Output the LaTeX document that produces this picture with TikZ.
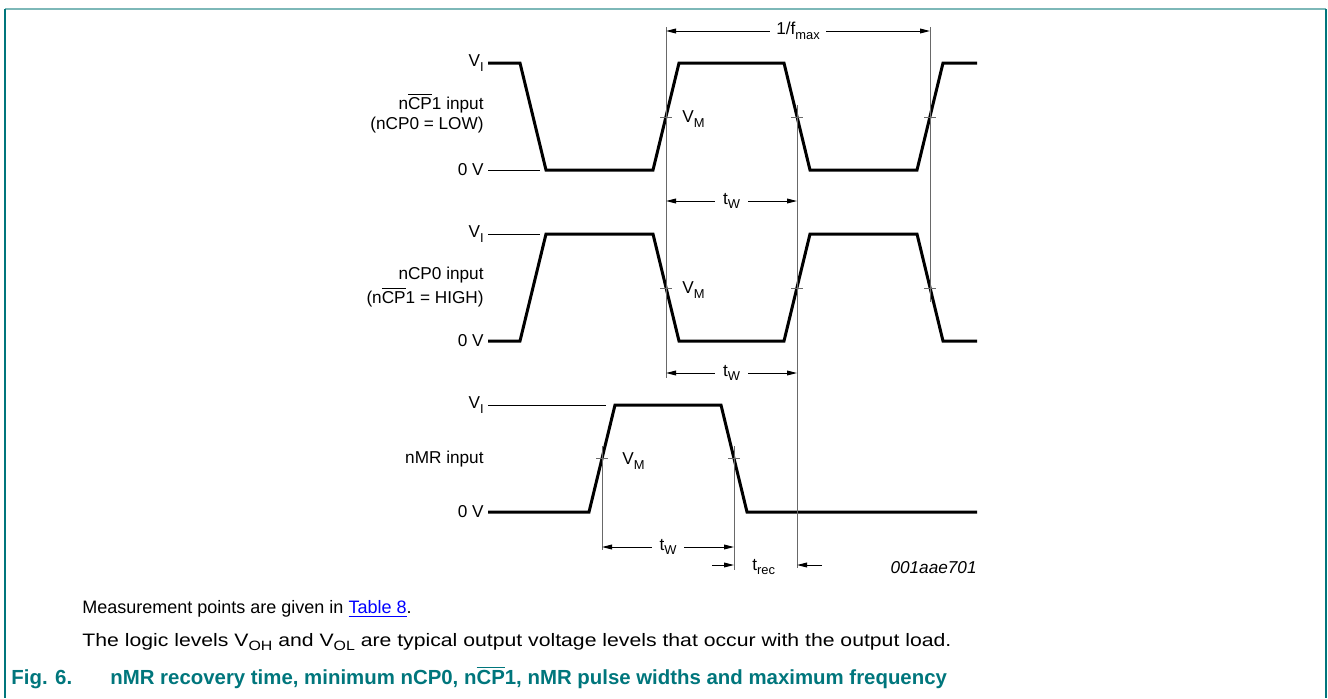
\documentclass[tikz,border=0pt]{standalone}
\usepackage{fontspec}
\setmainfont{Liberation Sans}
\usetikzlibrary{arrows.meta}
\definecolor{nxpteal}{RGB}{0,118,124}
\definecolor{rulelight}{RGB}{125,184,184}
\definecolor{guidegray}{RGB}{105,105,105}
\newcommand\lowtxt[1]{\raisebox{-0.5ex}{\scalebox{0.75}{#1}}}
\newcommand\barred[1]{$\overline{\mbox{#1}}$}

\begin{document}
\begin{tikzpicture}[x=0.5pt,y=-0.5pt,>={Triangle[length=5pt,width=2.4pt]},
  wave/.style={line width=1.5pt},
  refline/.style={line width=0.5pt},
  guide/.style={line width=0.5pt,guidegray},
  dim/.style={line width=0.5pt,<->},
  lbl/.style={font=\fontsize{8.6}{10}\selectfont,inner sep=0pt},
  dimlbl/.style={lbl,fill=white,inner xsep=4pt,inner ysep=1pt},
  note/.style={anchor=base west,inner sep=0pt,font=\fontsize{9}{11}\selectfont},
  capt/.style={anchor=base west,inner sep=0pt,text=nxpteal,font=\fontsize{10.2}{12}\selectfont\bfseries}]
\useasboundingbox (0,0) rectangle (1328,698);
\draw[rulelight,line width=1pt] (5,9) -- (1326,9);
\draw[nxpteal,line width=0.8pt] (5,9) -- (5,698);
\draw[nxpteal,line width=0.8pt] (1326,9) -- (1326,698);

% nCP1 input
\node[lbl,anchor=east] (vi1) at (484,63) {V\lowtxt{I}};
\node[lbl,anchor=east] (cp1a) at (484,103) {n\barred{CP}1 input};
\node[lbl,anchor=east] (cp1b) at (484,125) {(nCP0 = LOW)};
\node[lbl,anchor=east] (zero1) at (484,170) {0 V};
\coordinate (zero1end) at (540,170);
\draw[refline] ([xshift=2pt]zero1.east) -- (zero1end);
\draw[wave] (488,63) -- (520,63) -- (546,170) -- (653,170) -- (679,63) -- (784,63)
  -- (810,170) -- (917,170) -- (943,63) -- (977,63);

% nCP0 input
\node[lbl,anchor=east] (vi2) at (484,234) {V\lowtxt{I}};
\node[lbl,anchor=east] (cp0a) at (484,275) {nCP0 input};
\node[lbl,anchor=east] (cp0b) at (484,297) {(n\barred{CP}1 = HIGH)};
\node[lbl,anchor=east] (zero2) at (484,341) {0 V};
\coordinate (vi2end) at (540,234);
\draw[refline] ([xshift=2pt]vi2.east) -- (vi2end);
\draw[wave] (488,341) -- (520,341) -- (546,234) -- (653,234) -- (679,341) -- (784,341)
  -- (810,234) -- (917,234) -- (943,341) -- (977,341);

% nMR input
\node[lbl,anchor=east] (vi3) at (484,405) {V\lowtxt{I}};
\node[lbl,anchor=east] (mra) at (484,459) {nMR input};
\node[lbl,anchor=east] (zero3) at (484,512) {0 V};
\coordinate (vi3end) at (606,405);
\draw[refline] ([xshift=2pt]vi3.east) -- (vi3end);
\draw[wave] (488,512) -- (589,512) -- (615,405) -- (721,405) -- (747,512) -- (977,512);

% guides and V_M marks
\draw[guide] (666,27) -- (666,378);
\draw[guide] (797,105) -- (797,568);
\draw[guide] (930,27) -- (930,302);
\draw[guide] (602,446) -- (602,550);
\draw[guide] (734,446) -- (734,570);
\foreach \tx/\ty in {666/117,797/117,930/117,666/288,797/288,930/288,602/458,734/458}
  \draw[guide] (\tx-6,\ty) -- (\tx+6,\ty);
\node[lbl,anchor=west] (vm1) at (682,119) {V\lowtxt{M}};
\node[lbl,anchor=west] (vm2) at (682,290) {V\lowtxt{M}};
\node[lbl,anchor=west] (vm3) at (622,461) {V\lowtxt{M}};

% timing
\draw[dim] (666,31) -- node[dimlbl,inner xsep=3pt] (fmax) {1/f\lowtxt{max}} (930,31);
\draw[dim] (666,201) -- node[dimlbl] (tw1) {t\lowtxt{W}} (797,201);
\draw[dim] (666,373) -- node[dimlbl] (tw2) {t\lowtxt{W}} (797,373);
\draw[dim] (602,547) -- node[dimlbl] (tw3) {t\lowtxt{W}} (734,547);
\node[lbl,anchor=west] (trec) at (752,567) {t\lowtxt{rec}};
\draw[refline,->] (712,565) -- (734,565);
\draw[refline,->] (822,565) -- (797,565);
\node[lbl,anchor=east,font=\fontsize{8.6}{10}\selectfont\itshape] (docid) at (977,568) {001aae701};

% notes and caption
\node[note] (note1) at (82,613) {Measurement points are given in \textcolor{blue}{\underline{Table 8}}.};
\node[note] (note2) at (82,646) {\scalebox{1.178}[1]{The logic levels V\lowtxt{OH} and V\lowtxt{OL} are typical output voltage levels that occur with the output load.}};
\node[capt] (fignum) at (11,684) {Fig. 6.};
\node[capt] (figtitle) at (110,684) {nMR recovery time, minimum nCP0, n\barred{CP}1, nMR pulse widths and maximum frequency};
\end{tikzpicture}
\end{document}
